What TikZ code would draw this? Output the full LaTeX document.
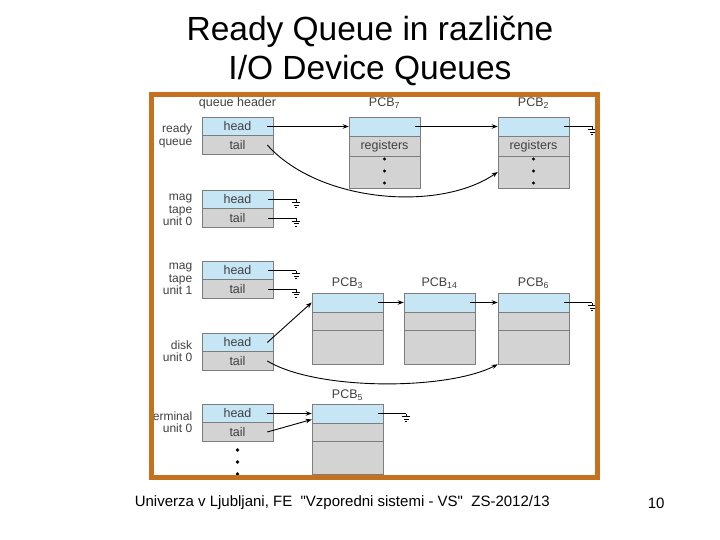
\documentclass[tikz,border=0pt]{standalone}
\usepackage{fontspec}
\setmainfont{Liberation Sans}[Ligatures=TeXOff]
\usetikzlibrary{arrows.meta,positioning}
\definecolor{headblue}{RGB}{198,230,246}
\definecolor{tailgray}{RGB}{211,211,211}
\definecolor{cellline}{RGB}{125,125,125}
\definecolor{framebrown}{RGB}{196,114,32}
\tikzset{nilptr/.pic={\draw[line width=0.7pt] (0,0) -- (0,3) (-4,3) -- (4,3) (-2.5,5.5) -- (2.5,5.5) (-1,8) -- (1,8);}}

\begin{document}
\begin{tikzpicture}[x=1pt, y=-1pt, >={Stealth[length=6pt,width=4.5pt]}, on grid, line width=0.9pt,
  cell/.style={rectangle, draw=cellline, line width=0.6pt, minimum width=71pt, minimum height=19pt, inner sep=0pt, font=\fontsize{12.5}{13}\selectfont, text=black!75},
  hcell/.style={cell, fill=headblue},
  tcell/.style={cell, fill=tailgray},
  qlabel/.style={anchor=east, align=right, font=\fontsize{12}{12.5}\selectfont, text=black!75},
  pcblabel/.style={font=\fontsize{12.5}{13}\selectfont, text=black!75}]
  \useasboundingbox (0,0) rectangle (720,540);
  \node[font=\fontsize{33.5}{39}\selectfont, align=center] (title) at (370,51) {Ready Queue in različne\\I/O Device Queues};

  % queue headers
  \node[hcell] (rqh) at (237.5,126.5) {head};
  \node[tcell, below=18.5pt of rqh] (rqt) {tail};
  \node[hcell] (m0h) at (237.5,199.5) {head};
  \node[tcell, below=18.5pt of m0h] (m0t) {tail};
  \node[hcell] (m1h) at (237.5,270.5) {head};
  \node[tcell, below=18.5pt of m1h] (m1t) {tail};
  \node[hcell] (dkh) at (237.5,342.5) {head};
  \node[tcell, below=18.5pt of dkh] (dkt) {tail};
  \node[hcell] (tmh) at (237.5,413.5) {head};
  \node[tcell, below=18.5pt of tmh] (tmt) {tail};
  \node[pcblabel, above=23.5pt of rqh] (qhdr) {queue header};
  \node[qlabel] (rql) at (196,136) {ready\\queue};
  \node[qlabel] (m0l) at (196,210) {mag\\tape\\unit 0};
  \node[qlabel] (m1l) at (196,279) {mag\\tape\\unit 1};
  \node[qlabel] (dkl) at (196,351) {disk\\unit 0};
  \node[qlabel] (tml) at (196,422) {terminal\\unit 0};
  \foreach \y in {450,462,474} \fill (237.5,\y) circle (1.8);

  % PCBs
  \node[hcell] (p7a) at (384.5,126.5) {};
  \node[tcell, minimum height=20pt, below=19.5pt of p7a] (p7b) {registers};
  \node[tcell, minimum height=32pt, below=26pt of p7b] (p7c) {};
  \node[hcell, right=149pt of p7a] (p2a) {};
  \node[tcell, minimum height=20pt, below=19.5pt of p2a] (p2b) {registers};
  \node[tcell, minimum height=32pt, below=26pt of p2b] (p2c) {};
  \node[pcblabel, above=23.5pt of p7a] {PCB\textsubscript{7}};
  \node[pcblabel, above=23.5pt of p2a] {PCB\textsubscript{2}};
  \foreach \d in {-13,-1,11} {
    \fill (p7c.center) ++(0,\d) circle (1.7);
    \fill (p2c.center) ++(0,\d) circle (1.7);
  }

  \node[hcell] (p3a) at (347.5,302.5) {};
  \node[tcell, minimum height=18pt, below=18.5pt of p3a] (p3b) {};
  \node[tcell, minimum height=34pt, below=26pt of p3b] (p3c) {};
  \node[hcell, right=92pt of p3a] (p14a) {};
  \node[tcell, minimum height=18pt, below=18.5pt of p14a] (p14b) {};
  \node[tcell, minimum height=34pt, below=26pt of p14b] (p14c) {};
  \node[hcell, right=94pt of p14a] (p6a) {};
  \node[tcell, minimum height=18pt, below=18.5pt of p6a] (p6b) {};
  \node[tcell, minimum height=34pt, below=26pt of p6b] (p6c) {};
  \node[pcblabel, above=19pt of p3a] {PCB\textsubscript{3}};
  \node[pcblabel, above=19pt of p14a] {PCB\textsubscript{14}};
  \node[pcblabel, above=19pt of p6a] {PCB\textsubscript{6}};

  \node[hcell] (p5a) at (347.5,413.5) {};
  \node[tcell, minimum height=18pt, below=18.5pt of p5a] (p5b) {};
  \node[tcell, minimum height=33pt, below=25.5pt of p5b] (p5c) {};
  \node[pcblabel, above=18.5pt of p5a] {PCB\textsubscript{5}};

  % links
  \draw[->] ([xshift=-6pt]rqh.east) -- (p7a.west);
  \draw[->] ([xshift=-5pt]p7a.east) -- (p2a.west);
  \draw ([xshift=-5pt]p2a.east) -- +(28,0) pic {nilptr};
  \draw[->] ([xshift=-6pt]rqt.east) .. controls +(52,58) and +(-58,40) .. (p2c.west);
  \draw ([xshift=-5pt]m0h.east) -- +(28,0) pic {nilptr};
  \draw ([xshift=-5pt]m0t.east) -- +(28,0) pic {nilptr};
  \draw ([xshift=-5pt]m1h.east) -- +(28,0) pic {nilptr};
  \draw ([xshift=-5pt]m1t.east) -- +(28,0) pic {nilptr};
  \draw[->] ([xshift=-6pt]dkh.east) -- (p3a.west);
  \draw[->] ([xshift=-5pt]p3a.east) -- (p14a.west);
  \draw[->] ([xshift=-5pt]p14a.east) -- (p6a.west);
  \draw ([xshift=-5pt]p6a.east) -- +(28,0) pic {nilptr};
  \draw[->] ([xshift=-6pt]dkt.east) .. controls +(50,30) and +(-50,26) .. (p6c.south west);
  \draw[->] ([xshift=-6pt]tmh.east) -- (p5a.west);
  \draw[->] ([xshift=-6pt]tmt.east) -- ([yshift=-6pt]p5a.west);
  \draw ([xshift=-5pt]p5a.east) -- +(28,0) pic {nilptr};

  \draw[framebrown, line width=5pt] (151.5,94.5) rectangle (597.5,477.5);
  \node[anchor=west, font=\fontsize{15}{16}\selectfont] (foot) at (131,503) {Univerza v Ljubljani, FE~~"Vzporedni sistemi - VS"~~ZS-2012/13};
  \node[anchor=west, font=\fontsize{15}{16}\selectfont] (pgno) at (644,503) {10};
\end{tikzpicture}
\end{document}
